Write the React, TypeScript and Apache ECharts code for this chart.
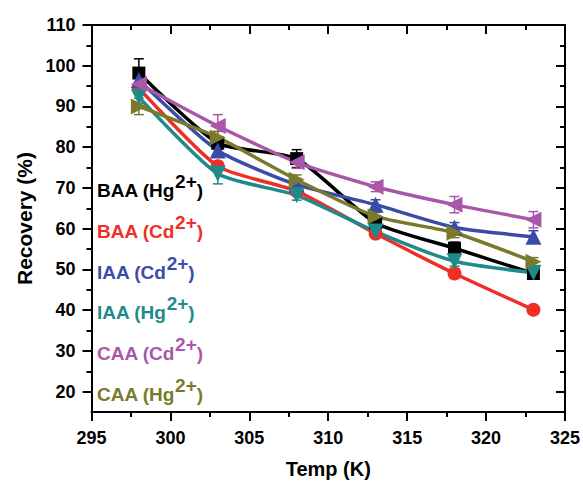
import React, { useEffect, useRef } from "react";
import * as echarts from "echarts";

const temps = [298, 303, 308, 313, 318, 323];
const baaHg = [98.2, 81.0, 77.2, 61.4, 55.2, 49.0];
const baaCd = [94.5, 75.3, 69.2, 58.8, 49.0, 40.1];
const iaaCd = [96.5, 79.2, 70.8, 65.9, 60.3, 58.0];
const iaaHg = [92.3, 73.5, 68.2, 59.3, 52.0, 49.2];
const caaCd = [95.5, 85.2, 76.3, 70.3, 65.9, 62.2];
const caaHg = [90.0, 82.4, 72.0, 63.0, 59.0, 51.9];

const baaHgErr = [3.5, 1.5, 2.2, 1.0, 1.5, 1.0];
const baaCdErr = [1.0, 1.0, 1.0, 1.0, 1.2, 0.5];
const iaaCdErr = [1.5, 1.2, 1.5, 1.2, 1.2, 1.5];
const iaaHgErr = [1.5, 2.5, 1.2, 1.0, 1.2, 1.2];
const caaCdErr = [2.0, 2.8, 1.5, 1.2, 2.0, 2.0];
const caaHgErr = [2.0, 1.5, 1.2, 1.0, 1.2, 1.0];

const seriesNames = ["BAA (Hg2+)", "BAA (Cd2+)", "IAA (Cd2+)", "IAA (Hg2+)", "CAA (Cd2+)", "CAA (Hg2+)"];
const legendParts = [
  ["BAA (Hg", ")"],
  ["BAA (Cd", ")"],
  ["IAA (Cd", ")"],
  ["IAA (Hg", ")"],
  ["CAA (Cd", ")"],
  ["CAA (Hg", ")"],
];

const majorY = [20, 30, 40, 50, 60, 70, 80, 90, 100, 110];
const minorY = [25, 35, 45, 55, 65, 75, 85, 95, 105];

export default function App() {
  const ref = useRef<HTMLDivElement>(null);
  useEffect(() => {
    if (!ref.current) return;
    const chart = echarts.init(ref.current, undefined, { renderer: "svg" });
    const colors = ["#000000", "#ef2e26", "#3b4ca8", "#1f8a8a", "#a957a9", "#7a7a2c"];
    const values = [baaHg, baaCd, iaaCd, iaaHg, caaCd, caaHg];
    const errs = [baaHgErr, baaCdErr, iaaCdErr, iaaHgErr, caaCdErr, caaHgErr];
    const symbols = ["rect", "circle", "triangle", "triangle", "triangle", "triangle"];
    const rotates = [0, 0, 0, 180, 90, -90];
    const sizes = [13, 14, 16, 16, 16, 16];
    const font = "Liberation Sans, Arial, sans-serif";

    const series: any[] = [];
    values.forEach((vals, si) => {
      series.push({
        type: "custom",
        name: seriesNames[si] + " err",
        xAxisIndex: 0,
        yAxisIndex: 0,
        z: 1,
        data: temps.map((t, i) => [t, vals[i], errs[si][i]]),
        renderItem: (params: any, api: any) => {
          const x = api.value(0);
          const y = api.value(1);
          const e = api.value(2);
          const top = api.coord([x, y + e]);
          const bot = api.coord([x, y - e]);
          const w = 5;
          const st = { stroke: colors[si], lineWidth: 1.5 };
          return {
            type: "group",
            children: [
              { type: "line", shape: { x1: top[0], y1: top[1], x2: bot[0], y2: bot[1] }, style: st },
              { type: "line", shape: { x1: top[0] - w, y1: top[1], x2: top[0] + w, y2: top[1] }, style: st },
              { type: "line", shape: { x1: bot[0] - w, y1: bot[1], x2: bot[0] + w, y2: bot[1] }, style: st },
            ],
          };
        },
      });
    });
    values.forEach((vals, si) => {
      series.push({
        type: "line",
        name: seriesNames[si],
        xAxisIndex: 0,
        yAxisIndex: 0,
        z: 3,
        data: temps.map((t, i) => [t, vals[i]]),
        smooth: 0.2,
        symbol: symbols[si],
        symbolSize: sizes[si],
        symbolRotate: rotates[si],
        showAllSymbol: true,
        itemStyle: { color: colors[si] },
        lineStyle: { color: colors[si], width: 3.5 },
      });
    });

    const axisLine = { show: true, onZero: false, lineStyle: { color: "#000", width: 2 } };
    const tickStyle = { color: "#000", width: 2 };
    const labelStyle = { color: "#000", fontSize: 18, fontWeight: "bold", fontFamily: font };

    const graphics = legendParts.map((p, i) => ({
      type: "text",
      x: 97,
      y: 186 + i * 40.8,
      z: 10,
      style: {
        text: `{a|${p[0]}}{s|2+}{a|${p[1]}}`,
        verticalAlign: "middle",
        rich: {
          a: { fill: colors[i], fontSize: 19, fontWeight: "bold", fontFamily: font, padding: [9, 0, 0, 0] },
          s: { fill: colors[i], fontSize: 19, fontWeight: "bold", fontFamily: font, padding: [0, 0, 9, 0] },
        },
      },
    }));

    chart.setOption({
      animation: false,
      backgroundColor: "#fff",
      grid: { left: 91.5, right: 17, top: 25, bottom: 78 },
      xAxis: [
        {
          type: "value",
          position: "bottom",
          min: 295,
          max: 325,
          interval: 5,
          axisLine,
          axisTick: { show: true, length: 9, lineStyle: tickStyle },
          minorTick: { show: true, splitNumber: 2, length: 5, lineStyle: tickStyle },
          splitLine: { show: false },
          axisLabel: { ...labelStyle, margin: 17 },
          name: "Temp (K)",
          nameLocation: "middle",
          nameGap: 47,
          nameTextStyle: { color: "#000", fontSize: 20, fontWeight: "bold", fontFamily: font },
        },
        {
          type: "value",
          position: "top",
          min: 295,
          max: 325,
          interval: 5,
          axisLine,
          axisTick: { show: true, inside: true, length: 9, lineStyle: tickStyle },
          minorTick: { show: true, splitNumber: 2, length: 5, lineStyle: tickStyle },
          splitLine: { show: false },
          axisLabel: { show: false },
        },
      ],
      yAxis: [
        {
          type: "value",
          position: "left",
          min: 15,
          max: 110,
          axisLine,
          axisTick: { show: true, length: 9, lineStyle: tickStyle, customValues: majorY },
          axisLabel: { ...labelStyle, margin: 16, customValues: majorY },
          splitLine: { show: false },
          name: "Recovery (%)",
          nameLocation: "middle",
          nameGap: 55,
          nameTextStyle: { color: "#000", fontSize: 21, fontWeight: "bold", fontFamily: font },
        },
        {
          type: "value",
          position: "left",
          min: 15,
          max: 110,
          axisLine,
          axisTick: { show: true, length: 5, lineStyle: tickStyle, customValues: minorY },
          axisLabel: { show: false, customValues: minorY },
          splitLine: { show: false },
        },
        {
          type: "value",
          position: "right",
          min: 15,
          max: 110,
          axisLine,
          axisTick: { show: true, inside: true, length: 9, lineStyle: tickStyle, customValues: majorY },
          axisLabel: { show: false, customValues: majorY },
          splitLine: { show: false },
        },
        {
          type: "value",
          position: "right",
          min: 15,
          max: 110,
          axisLine,
          axisTick: { show: true, inside: true, length: 5, lineStyle: tickStyle, customValues: minorY },
          axisLabel: { show: false, customValues: minorY },
          splitLine: { show: false },
        },
      ],
      graphic: graphics,
      series,
    });
    return () => chart.dispose();
  }, []);
  return <div ref={ref} style={{ position: "fixed", left: 0, top: 0, width: 583, height: 490 }} />;
}
